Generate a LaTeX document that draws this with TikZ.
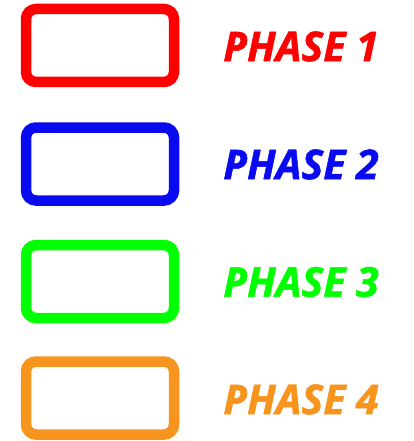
\documentclass[tikz,border=0pt]{standalone}
\usepackage{fontspec}
\setmainfont{Open Sans}
\newfontfamily\phasefont{Open Sans}[BoldItalicFeatures={FakeBold=1.3}]
\definecolor{phaseorange}{RGB}{247,148,30}
\definecolor{phaseblue}{RGB}{10,10,240}
\tikzset{
	phasebox/.style={draw, line width=10.5pt, rounded corners=10pt, minimum width=148pt, minimum height=73pt, inner sep=0pt},
	phaselabel/.style={font=\phasefont\fontsize{41}{44}\selectfont\bfseries\itshape, inner sep=0pt}
}
\begin{document}
\begin{tikzpicture}[x=1pt, y=-1pt]
			\useasboundingbox (0,0) rectangle (413,441);
			\node[phasebox, red] (b1) at (100,45.5) {};
			\node[phasebox, phaseblue] (b2) at (100,164) {};
			\node[phasebox, green] (b3) at (100,281.5) {};
			\node[phasebox, phaseorange] (b4) at (100,398) {};
			
			\node[phaselabel, red] (l1) at (301,46.5) {PHASE 1};
			\node[phaselabel, phaseblue] (l2) at (301,164.5) {PHASE 2};
			\node[phaselabel, green] (l3) at (301,282) {PHASE 3};
			\node[phaselabel, phaseorange] (l4) at (301,399.5) {PHASE 4};
		\end{tikzpicture}
\end{document}
